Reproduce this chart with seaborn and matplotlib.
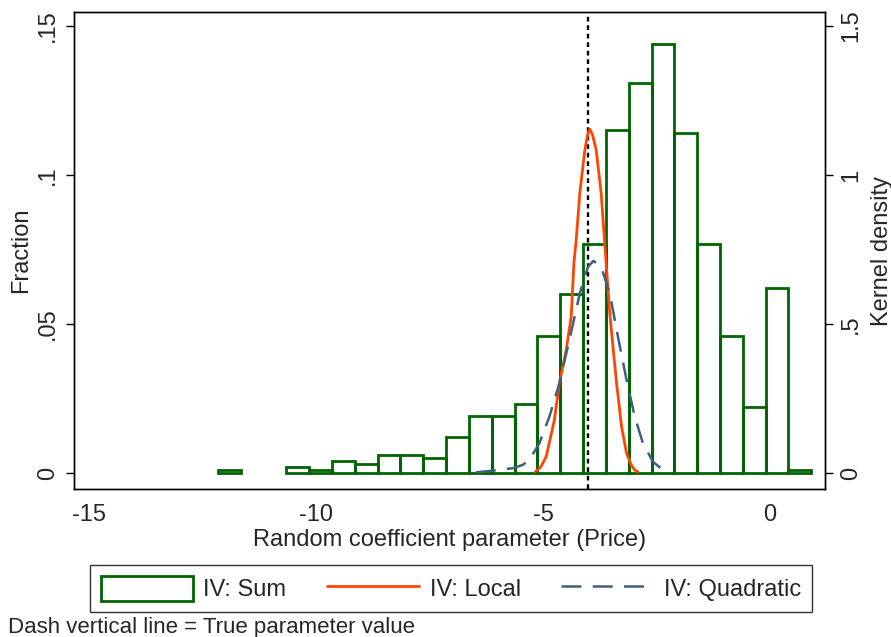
import numpy as np
import pandas as pd
import matplotlib
matplotlib.use("Agg")
import matplotlib.pyplot as plt
import seaborn as sns
from matplotlib.patches import Patch
from matplotlib.lines import Line2D

# ---------------- data ----------------
bin_start = -12.16
bin_width = 0.5026
fractions = [0.001, 0.0, 0.0, 0.002, 0.001, 0.004, 0.003, 0.006, 0.006, 0.005,
             0.012, 0.019, 0.019, 0.023, 0.046, 0.060, 0.077, 0.115, 0.131, 0.144,
             0.114, 0.077, 0.046, 0.022, 0.062, 0.001]

local_x = [-5.17, -5.05, -4.93, -4.75, -4.64, -4.49, -4.38, -4.32, -4.27, -4.19,
           -4.08, -4.02, -3.97, -3.91, -3.83, -3.72, -3.61, -3.53, -3.46, -3.38,
           -3.27, -3.16, -3.05, -2.98, -2.91]
local_y = [0.004, 0.020, 0.055, 0.178, 0.301, 0.413, 0.524, 0.704, 0.782, 0.939,
           1.084, 1.135, 1.154, 1.135, 1.084, 0.939, 0.704, 0.536, 0.424, 0.301,
           0.155, 0.066, 0.025, 0.010, 0.004]

quad_x = [-6.48, -6.11, -5.67, -5.45, -5.30, -5.08, -4.86, -4.64, -4.42, -4.19,
          -4.01, -3.89, -3.72, -3.53, -3.35, -3.16, -2.98, -2.80, -2.58, -2.36, -2.21]
quad_y = [0.002, 0.008, 0.016, 0.027, 0.044, 0.100, 0.189, 0.301, 0.446, 0.603,
          0.692, 0.712, 0.692, 0.603, 0.457, 0.312, 0.189, 0.100, 0.038, 0.010, 0.002]

true_value = -4.0

x_ticks = [-15, -10, -5, 0]
x_ticklabels = ["-15", "-10", "-5", "0"]
y_ticks = [0, 0.05, 0.10, 0.15]
y_ticklabels = ["0", ".05", ".1", ".15"]
y2_ticks = [0, 0.5, 1.0, 1.5]
y2_ticklabels = ["0", ".5", "1", "1.5"]

legend_labels = ["IV: Sum", "IV: Local", "IV: Quadratic"]
x_label = "Random coefficient parameter (Price)"
y_label = "Fraction"
y2_label = "Kernel density"
note = "Dash vertical line = True parameter value"

# ---------------- style ----------------
sns.set_style("white")
plt.rcParams["font.family"] = ["Liberation Sans", "DejaVu Sans"]
plt.rcParams["axes.unicode_minus"] = False

GREEN = "#006400"
ORANGE = "#FF4500"
BLUE = "#3F5F80"
FS = 17

edges = [float(e) for e in bin_start + bin_width * np.arange(len(fractions) + 1)]
centers = [(edges[i] + edges[i + 1]) / 2 for i in range(len(fractions))]
hist_df = pd.DataFrame({"x": centers, "w": fractions})
local_df = pd.DataFrame({"x": local_x, "y": local_y})
quad_df = pd.DataFrame({"x": quad_x, "y": quad_y})

fig = plt.figure(figsize=(8.91, 6.37), dpi=100)
ax = fig.add_axes([74 / 891, 1 - 489 / 637, (825 - 74) / 891, (489 - 12) / 637])

sns.histplot(data=hist_df, x="x", weights="w", bins=edges, stat="count",
             fill=False, element="bars", color=GREEN, linewidth=2.0, ax=ax)
for p in list(ax.patches):
    if p.get_height() <= 0:
        p.remove()
    else:
        p.set_edgecolor(GREEN)
        p.set_linewidth(2.0)

ax.axvline(true_value, color="black", lw=1.7, ls=(0, (2.0, 1.6)), zorder=5)

ax.set_xlim(-15.33, 1.21)
ax.set_ylim(-0.00537, 0.1547)
ax.set_xticks(x_ticks)
ax.set_xticklabels(x_ticklabels, fontsize=FS)
ax.set_yticks(y_ticks)
ax.set_yticklabels(y_ticklabels, fontsize=FS, rotation=90, va="center")
ax.set_xlabel(x_label, fontsize=FS, labelpad=2)
ax.set_ylabel(y_label, fontsize=FS, labelpad=3)
ax.tick_params(axis="both", direction="out", length=6, width=1.0, color="black", pad=5)

ax2 = ax.twinx()
sns.lineplot(data=local_df, x="x", y="y", color=ORANGE, lw=2.0, ax=ax2, sort=False)
sns.lineplot(data=quad_df, x="x", y="y", color=BLUE, lw=1.8, ax=ax2, sort=False)
ax2.lines[-1].set_linestyle((0, (8.0, 4.5)))
ax2.set_ylim(-0.0537, 1.547)
ax2.set_yticks(y2_ticks)
ax2.set_yticklabels(y2_ticklabels, fontsize=FS, rotation=90, va="center")
ax2.set_ylabel(y2_label, fontsize=FS, labelpad=6)
ax2.tick_params(axis="y", direction="out", length=6, width=1.0, color="black", pad=5)
ax2.set_xlabel(x_label, fontsize=FS, labelpad=2)

for a in (ax, ax2):
    for s in a.spines.values():
        s.set_color("black")
        s.set_linewidth(1.0)
        s.set_visible(True)

handles = [Patch(facecolor="white", edgecolor=GREEN, linewidth=2.0),
           Line2D([0], [0], color=ORANGE, lw=2.0),
           Line2D([0], [0], color=BLUE, lw=1.8, ls=(0, (8.0, 4.5)))]
leg = fig.legend(handles, legend_labels, loc="lower left",
                 bbox_to_anchor=(90 / 891, 1 - 612 / 637, (812 - 90) / 891, 47 / 637),
                 mode="expand", ncol=3, fontsize=FS, frameon=True, fancybox=False,
                 edgecolor="black", handlelength=3.9, handleheight=1.25,
                 handletextpad=0.45, borderaxespad=0, borderpad=0.45,
                 columnspacing=0.8)
leg.get_frame().set_linewidth(1.0)

fig.text(8 / 891, 1 - 633 / 637, note, fontsize=16, ha="left", va="baseline")

fig.savefig("out.png", dpi=100, facecolor="white")
